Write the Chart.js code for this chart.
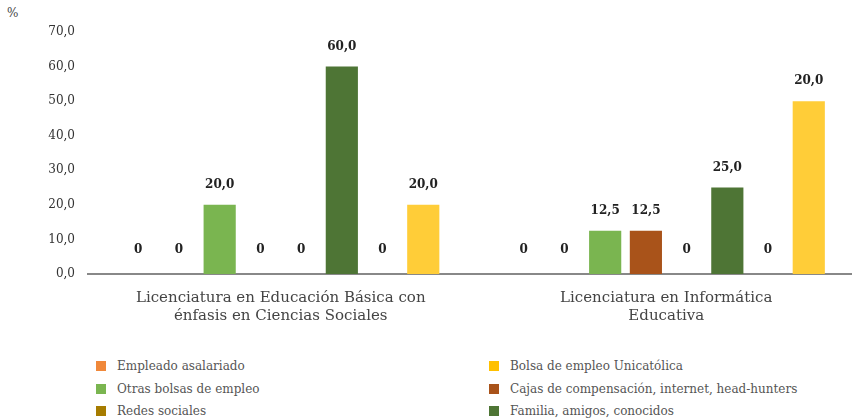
<!DOCTYPE html>
<html>
<head>
<meta charset="utf-8">
<script src="https://cdn.jsdelivr.net/npm/chart.js@4"></script>
<style>
  body { margin: 0; width: 852px; height: 420px; overflow: hidden; background: #fff; font-family: "DejaVu Serif", serif; }
  #wrap { position: relative; width: 860px; height: 420px; }
  #box { position: absolute; left: 0; top: 0; width: 860px; height: 340px; }
  #unit { position: absolute; left: 7px; top: 6px; font-size: 12px; color: #444; }
  .item { position: absolute; font-size: 12px; color: #555; line-height: 14px; white-space: nowrap; }
  .item span { display: inline-block; width: 10px; height: 10px; margin-right: 11px; vertical-align: -1px; }
</style>
</head>
<body>
<div id="wrap">
  <div id="unit">%</div>
  <div id="box"><canvas id="myChart"></canvas></div>
  <div id="legend"></div>
</div>
<script>
const categories = [
  ["Licenciatura en Educación Básica con", "énfasis en Ciencias Sociales"],
  ["Licenciatura en Informática", "Educativa"]
];
const series_names = [
  "Empleado asalariado",
  "Bolsa de empleo Unicatólica",
  "Otras bolsas de empleo",
  "Cajas de compensación, internet, head-hunters",
  "Redes sociales",
  "Familia, amigos, conocidos",
  "",
  ""
];
const series_colors = ['#F0883A', '#FFC000', '#7AB550', '#A9531A', '#A67C00', '#4E7535', '#9DC3E6', '#FFCD38'];
const series_values = [
  [0, 0],
  [0, 0],
  [20, 12.5],
  [0, 12.5],
  [0, 0],
  [60, 25],
  [0, 0],
  [20, 50]
];
// labels as printed above the bars
const value_labels = [
  ["0", "0"],
  ["0", "0"],
  ["20,0", "12,5"],
  ["0", "12,5"],
  ["0", "0"],
  ["60,0", "25,0"],
  ["0", "0"],
  ["20,0", "20,0"]
];
const legend_count = 6;

const barLabels = {
  id: 'barLabels',
  afterDatasetsDraw(chart) {
    const ctx = chart.ctx;
    ctx.save();
    ctx.font = 'bold 12px "DejaVu Serif"';
    ctx.fillStyle = '#222';
    ctx.textAlign = 'center';
    ctx.textBaseline = 'bottom';
    chart.data.datasets.forEach((ds, i) => {
      chart.getDatasetMeta(i).data.forEach((bar, j) => {
        let off = ds.data[j] === 0 ? 18 : 14;
        ctx.fillText(value_labels[i][j], bar.x, bar.y - off);
      });
    });
    ctx.restore();
  }
};

const ctx = document.getElementById("myChart").getContext("2d");
const myChart = new Chart(ctx, {
  type: 'bar',
  data: {
    labels: categories,
    datasets: series_names.map((name, i) => ({
      label: name,
      data: series_values[i],
      backgroundColor: series_colors[i],
      borderWidth: 0,
      categoryPercentage: 0.845,
      barPercentage: 0.79,
    })),
  },
  options: {
    responsive: true,
    maintainAspectRatio: false,
    animation: false,
    layout: { padding: { top: 32, right: 1, left: 0, bottom: 0 } },
    plugins: { legend: { display: false }, tooltip: { enabled: false } },
    scales: {
      x: {
        grid: { display: false },
        border: { display: true, color: '#888', width: 2 },
        ticks: { font: { family: 'DejaVu Serif', size: 15 }, color: '#444', padding: 7 },
        afterFit: s => { s.height = 66; },
      },
      y: {
        min: 0,
        max: 70,
        grid: { display: false },
        border: { display: false },
        ticks: {
          stepSize: 10,
          padding: 5,
          font: { family: 'DejaVu Serif', size: 12 },
          color: '#333',
          callback: v => v.toFixed(1).replace('.', ','),
        },
        afterFit: s => { s.width = 88; },
      },
    },
  },
  plugins: [barLabels],
});

// two column legend
const legend = document.getElementById("legend");
for (let i = 0; i < legend_count; i++) {
  let d = document.createElement("div");
  d.className = "item";
  d.style.left = (i % 2 === 0 ? 96 : 489) + "px";
  d.style.top = (359 + Math.floor(i / 2) * 22.5) + "px";
  d.innerHTML = '<span style="background:' + series_colors[i] + '"></span>' + series_names[i];
  legend.appendChild(d);
}
</script>
</body>
</html>
